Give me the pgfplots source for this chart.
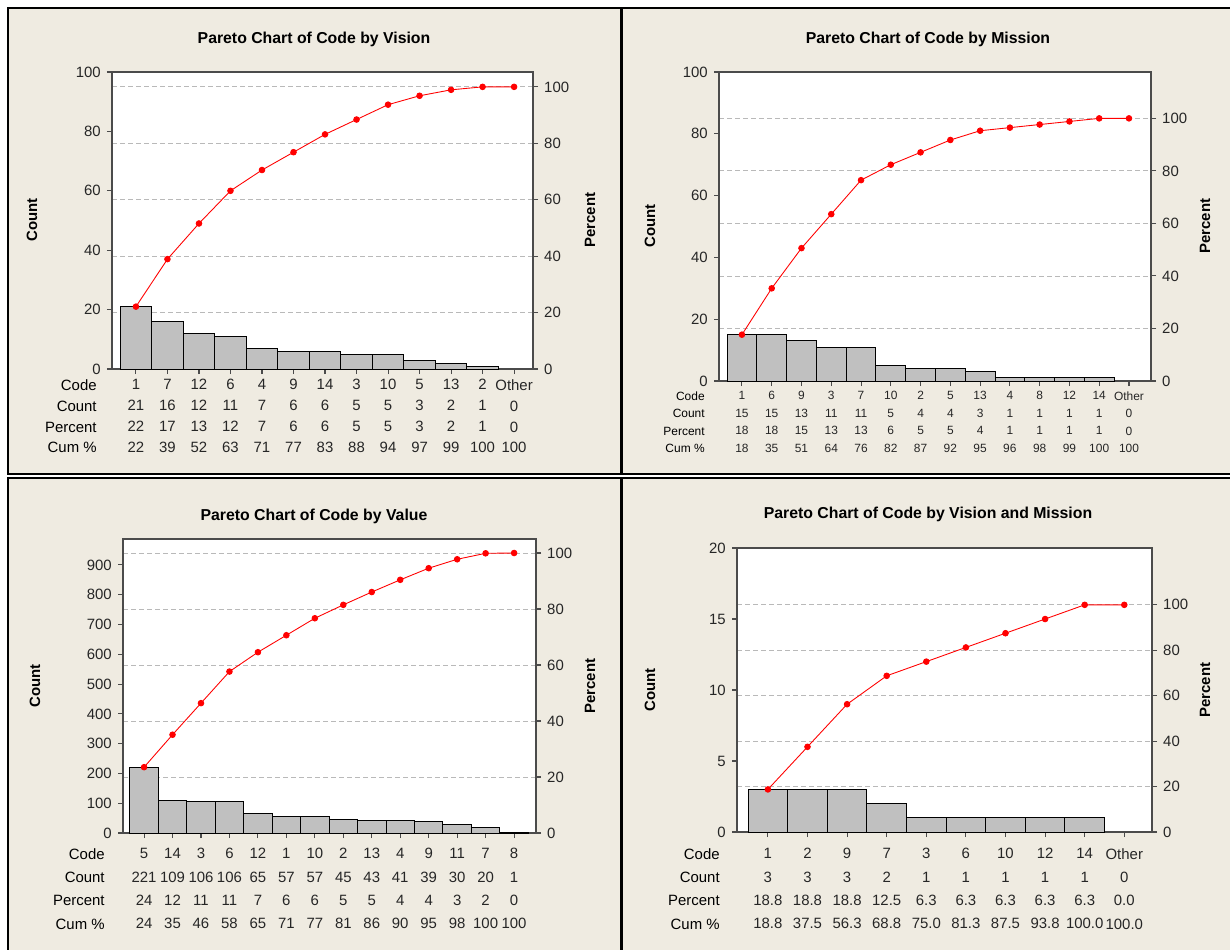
\documentclass[border=0pt]{standalone}
\usepackage{pgfplots}
\pgfplotsset{compat=1.18}
\usepackage{fontspec}
\setmainfont{Liberation Sans}

\definecolor{panelbg}{RGB}{239,235,225}
\definecolor{axisgray}{RGB}{75,75,75}
\definecolor{bargray}{RGB}{192,192,192}
\definecolor{gridgray}{RGB}{185,185,185}

\pgfplotsset{
  pbase/.style={scale only axis, tick align=outside, major tick length=0.1cm,
    every tick/.style={axisgray, line width=0.6pt},
    axis line style={axisgray, line width=0.6pt},
    ticklabel style={font=\fontsize{8.5}{10}\selectfont, text=black!85},
    /pgf/number format/assume math mode=true, ymin=0},
  pct/.style={pbase, axis y line*=right, hide x axis,
    axis background/.style={fill=white},
    ytick={0,20,...,100}, ymajorgrids,
    grid style={gridgray, dash pattern=on 0.1cm off 0.06cm, line width=0.5pt}},
  cnt/.style={pbase, clip=false, xtick pos=bottom, ytick pos=left,
    xticklabel style={align=center, inner sep=0pt, anchor=north}},
  bars/.style={ybar, bar width=1, fill=bargray, draw=black, line width=0.5pt},
  cum/.style={red, line width=0.5pt, mark=*, mark size=1.6pt,
    mark options={fill=red, draw=red}},
}
\tikzset{
  ttl/.style={font=\bfseries\fontsize{9}{11}\selectfont},
  lbl/.style={font=\bfseries\fontsize{8.5}{10}\selectfont, rotate=90},
}

\begin{document}
\begin{tikzpicture}
\useasboundingbox (0,0) rectangle (24.6,-18.98);
\fill[white] (0,0) rectangle (24.6,-18.98);
\filldraw[fill=panelbg, draw=black, line width=1pt] (0.16,-0.16) rectangle (12.42,-9.48);
\filldraw[fill=panelbg, draw=black, line width=1pt] (12.44,-0.16) rectangle (24.7,-9.48);
\filldraw[fill=panelbg, draw=black, line width=1pt] (0.16,-9.56) rectangle (12.42,-19.1);
\filldraw[fill=panelbg, draw=black, line width=1pt] (12.44,-9.56) rectangle (24.7,-19.1);

% ---------- Vision ----------
\begin{axis}[pct, at={(2.24cm,-7.38cm)}, anchor=south west, width=8.42cm, height=5.94cm,
    xmin=-0.76, xmax=12.6, ymax=105.263]
\end{axis}
\begin{axis}[cnt, name=p1, at={(2.24cm,-7.38cm)}, anchor=south west, width=8.42cm, height=5.94cm,
    xmin=-0.76, xmax=12.6, ymax=100, ytick={0,20,...,100},
    xtick={0,...,12},
    xticklabel style={font=\fontsize{8.5}{11.9}\selectfont, yshift=-0.1cm},
    xticklabels={{1\\21\\22\\22},{7\\16\\17\\39},{12\\12\\13\\52},{6\\11\\12\\63},
      {4\\7\\7\\71},{9\\6\\6\\77},{14\\6\\6\\83},{3\\5\\5\\88},{10\\5\\5\\94},
      {5\\3\\3\\97},{13\\2\\2\\99},{2\\1\\1\\100},{Other\\0\\0\\100}}]
\addplot[bars] coordinates {(0,21) (1,16) (2,12) (3,11) (4,7) (5,6) (6,6)
  (7,5) (8,5) (9,3) (10,2) (11,1)};
\addplot[cum] coordinates {(0,21) (1,37) (2,49) (3,60) (4,67) (5,73) (6,79)
  (7,84) (8,89) (9,92) (10,94) (11,95) (12,95)};
\end{axis}
\node[anchor=north east, align=right, inner sep=0pt, font=\fontsize{8.5}{11.9}\selectfont]
  at ([xshift=-0.3cm, yshift=-0.2cm]p1.south west) {Code\\Count\\Percent\\Cum \%};
\node[ttl] at (6.28,-0.78) {Pareto Chart of Code by Vision};
\node[lbl] at (0.64,-4.4) {Count};
\node[lbl] at (11.8,-4.4) {Percent};

% ---------- Mission ----------
\begin{axis}[pct, at={(14.38cm,-7.62cm)}, anchor=south west, width=8.64cm, height=6.18cm,
    xmin=-0.77, xmax=13.74, ymax=117.647]
\end{axis}
\begin{axis}[cnt, name=p2, at={(14.38cm,-7.62cm)}, anchor=south west, width=8.64cm, height=6.18cm,
    xmin=-0.77, xmax=13.74, ymax=100, ytick={0,20,...,100},
    xtick={0,...,13},
    xticklabel style={font=\fontsize{6.8}{10}\selectfont, yshift=-0.1cm},
    xticklabels={{1\\15\\18\\18},{6\\15\\18\\35},{9\\13\\15\\51},{3\\11\\13\\64},
      {7\\11\\13\\76},{10\\5\\6\\82},{2\\4\\5\\87},{5\\4\\5\\92},{13\\3\\4\\95},
      {4\\1\\1\\96},{8\\1\\1\\98},{12\\1\\1\\99},{14\\1\\1\\100},{Other\\0\\0\\100}}]
\addplot[bars] coordinates {(0,15) (1,15) (2,13) (3,11) (4,11) (5,5) (6,4)
  (7,4) (8,3) (9,1) (10,1) (11,1) (12,1)};
\addplot[cum] coordinates {(0,15) (1,30) (2,43) (3,54) (4,65) (5,70) (6,74)
  (7,78) (8,81) (9,82) (10,83) (11,84) (12,85) (13,85)};
\end{axis}
\node[anchor=north east, align=right, inner sep=0pt, font=\fontsize{6.8}{10}\selectfont]
  at ([xshift=-0.28cm, yshift=-0.2cm]p2.south west) {Code\\Count\\Percent\\Cum \%};
\node[ttl] at (18.56,-0.78) {Pareto Chart of Code by Mission};
\node[lbl] at (13.0,-4.52) {Count};
\node[lbl] at (24.1,-4.52) {Percent};

% ---------- Value ----------
\begin{axis}[pct, at={(2.46cm,-16.66cm)}, anchor=south west, width=8.26cm, height=5.88cm,
    xmin=-0.74, xmax=13.77, ymax=105]
\end{axis}
\begin{axis}[cnt, name=p3, at={(2.46cm,-16.66cm)}, anchor=south west, width=8.26cm, height=5.88cm,
    xmin=-0.74, xmax=13.77, ymax=987, ytick={0,100,...,900},
    xtick={0,...,13},
    xticklabel style={font=\fontsize{8.5}{13.3}\selectfont, yshift=-0.2cm},
    xticklabels={{5\\221\\24\\24},{14\\109\\12\\35},{3\\106\\11\\46},{6\\106\\11\\58},
      {12\\65\\7\\65},{1\\57\\6\\71},{10\\57\\6\\77},{2\\45\\5\\81},{13\\43\\5\\86},
      {4\\41\\4\\90},{9\\39\\4\\95},{11\\30\\3\\98},{7\\20\\2\\100},{8\\1\\0\\100}}]
\addplot[bars] coordinates {(0,221) (1,109) (2,106) (3,106) (4,65) (5,57) (6,57)
  (7,45) (8,43) (9,41) (10,39) (11,30) (12,20) (13,1)};
\addplot[cum] coordinates {(0,221) (1,330) (2,436) (3,542) (4,607) (5,664) (6,721)
  (7,766) (8,809) (9,850) (10,889) (11,919) (12,939) (13,940)};
\end{axis}
\node[anchor=north east, align=right, inner sep=0pt, font=\fontsize{8.5}{13.3}\selectfont]
  at ([xshift=-0.36cm, yshift=-0.3cm]p3.south west) {Code\\Count\\Percent\\Cum \%};
\node[ttl] at (6.28,-10.32) {Pareto Chart of Code by Value};
\node[lbl] at (0.7,-13.72) {Count};
\node[lbl] at (11.8,-13.72) {Percent};

% ---------- Vision and Mission ----------
\begin{axis}[pct, at={(14.74cm,-16.64cm)}, anchor=south west, width=8.3cm, height=5.68cm,
    xmin=-0.78, xmax=9.7, ymax=125]
\end{axis}
\begin{axis}[cnt, name=p4, at={(14.74cm,-16.64cm)}, anchor=south west, width=8.3cm, height=5.68cm,
    xmin=-0.78, xmax=9.7, ymax=20, ytick={0,5,...,20},
    xtick={0,...,9},
    xticklabel style={font=\fontsize{8.5}{13.3}\selectfont, yshift=-0.22cm},
    xticklabels={{1\\3\\18.8\\18.8},{2\\3\\18.8\\37.5},{9\\3\\18.8\\56.3},{7\\2\\12.5\\68.8},
      {3\\1\\6.3\\75.0},{6\\1\\6.3\\81.3},{10\\1\\6.3\\87.5},{12\\1\\6.3\\93.8},
      {14\\1\\6.3\\100.0},{Other\\0\\0.0\\100.0}}]
\addplot[bars] coordinates {(0,3) (1,3) (2,3) (3,2) (4,1) (5,1) (6,1) (7,1) (8,1)};
\addplot[cum] coordinates {(0,3) (1,6) (2,9) (3,11) (4,12) (5,13) (6,14)
  (7,15) (8,16) (9,16)};
\end{axis}
\node[anchor=north east, align=right, inner sep=0pt, font=\fontsize{8.5}{13.3}\selectfont]
  at ([xshift=-0.34cm, yshift=-0.32cm]p4.south west) {Code\\Count\\Percent\\Cum \%};
\node[ttl] at (18.56,-10.28) {Pareto Chart of Code by Vision and Mission};
\node[lbl] at (13.0,-13.8) {Count};
\node[lbl] at (24.1,-13.8) {Percent};
\end{tikzpicture}
\end{document}
